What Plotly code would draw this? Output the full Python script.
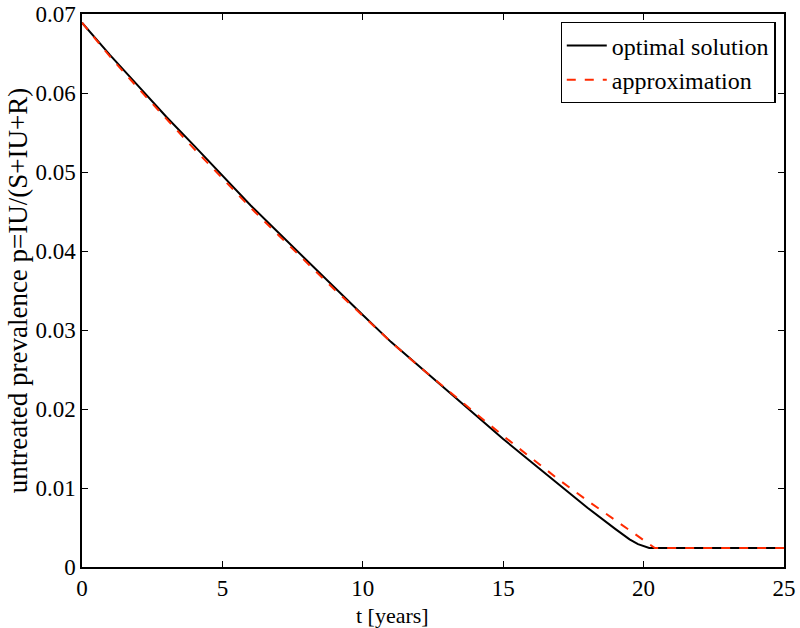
import plotly.graph_objects as go

t_opt = [0, 1, 2, 3, 4, 5, 6, 7, 8, 9, 10, 11, 12, 13, 14, 15, 16, 17, 18, 19,
         19.5, 19.8, 20.0, 20.2, 20.4, 21, 22, 23, 24, 25]
p_opt = [0.0689, 0.0648, 0.0609, 0.0570, 0.0533, 0.0495, 0.0458, 0.0423, 0.0388,
         0.0353, 0.0319, 0.0285, 0.0254, 0.0223, 0.0192, 0.0162, 0.0133, 0.0104,
         0.0075, 0.0048, 0.0035, 0.0029, 0.0026, 0.0024, 0.0024, 0.0024, 0.0024,
         0.0024, 0.0024, 0.0024]

t_apx = [0, 1, 2, 3, 4, 5, 6, 7, 8, 9, 10, 11, 12, 13, 14, 15, 16, 17, 18, 19,
         20, 20.4, 21, 22, 23, 24, 25]
p_apx = [0.0689, 0.0646, 0.0606, 0.0567, 0.0529, 0.0492, 0.0455, 0.0420, 0.0385,
         0.0351, 0.0318, 0.0285, 0.0254, 0.0224, 0.0195, 0.0166, 0.0138, 0.0110,
         0.0084, 0.0059, 0.0034, 0.0024, 0.0024, 0.0024, 0.0024, 0.0024, 0.0024]

x_ticks = [0, 5, 10, 15, 20, 25]
y_ticks = [0, 0.01, 0.02, 0.03, 0.04, 0.05, 0.06, 0.07]
y_tick_text = ["0", "0.01", "0.02", "0.03", "0.04", "0.05", "0.06", "0.07"]

x_title = "t [years]"
y_title = "untreated prevalence p=IU/(S+IU+R)"

font = "Liberation Serif, Times New Roman, serif"

fig = go.Figure()
fig.add_trace(go.Scatter(x=t_opt, y=p_opt, mode="lines", name="optimal solution",
                         line=dict(color="black", width=2)))
fig.add_trace(go.Scatter(x=t_apx, y=p_apx, mode="lines", name="approximation",
                         line=dict(color="#ff2a00", width=2, dash="dash")))

axis_common = dict(showline=True, linecolor="black", linewidth=1.5, mirror="ticks",
                   ticks="inside", ticklen=6, tickcolor="black", tickwidth=1,
                   showgrid=False, zeroline=False, automargin=False,
                   tickfont=dict(family=font, size=23, color="black"))

fig.update_layout(
    width=800, height=628,
    margin=dict(l=82, r=16, t=14, b=61),
    paper_bgcolor="white", plot_bgcolor="white",
    font=dict(family=font, color="black"),
    xaxis=dict(range=[0, 25], tickvals=x_ticks, **axis_common),
    yaxis=dict(range=[0, 0.07], tickvals=y_ticks, ticktext=y_tick_text,
               title=dict(text=y_title, font=dict(family=font, size=27), standoff=0),
               **axis_common),
    legend=dict(x=0.988, y=0.985, xanchor="right", yanchor="top",
                bgcolor="white", bordercolor="black", borderwidth=1.2,
                font=dict(family=font, size=24, color="black"),
                tracegroupgap=0, itemwidth=40),
    showlegend=True,
    annotations=[dict(text=x_title, xref="paper", yref="paper",
                      x=0.4416, y=-0.0868, xanchor="center", yanchor="middle",
                      showarrow=False, font=dict(family=font, size=22, color="black"))],
)

fig.write_html("out.html", config={"displayModeBar": False},
               post_script="document.body.style.margin='0';document.body.style.padding='0';")
